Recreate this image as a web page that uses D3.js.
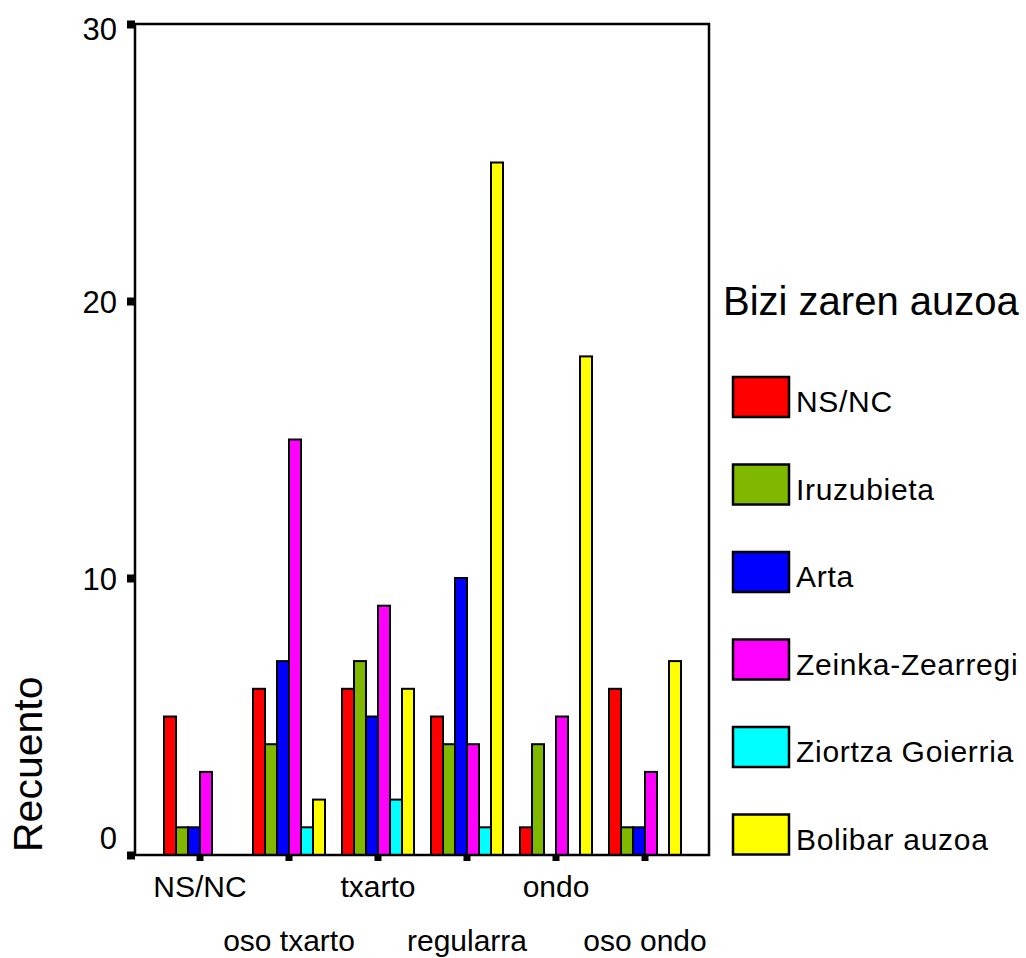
<!DOCTYPE html>
<html>
<head>
<meta charset="utf-8">
<script src="https://cdn.jsdelivr.net/npm/d3@7"></script>
<style>
  body { margin: 0; background: #fff; }
  text { font-family: "Liberation Sans", Arial, sans-serif; fill: #000; }
</style>
</head>
<body>
<script>
// answer categories (x axis) and neighbourhoods (series)
const categories = ["NS/NC", "oso txarto", "txarto", "regularra", "ondo", "oso ondo"];
const seriesNames = ["NS/NC", "Iruzubieta", "Arta", "Zeinka-Zearregi", "Ziortza Goierria", "Bolibar auzoa"];
const seriesColors = ["#ff0000", "#80b800", "#0000ff", "#ff00ff", "#00ffff", "#ffff00"];

// counts, one array per neighbourhood, in category order
const nsncValues       = [5, 6, 6, 5, 1, 6];
const iruzubietaValues = [1, 4, 7, 4, 4, 1];
const artaValues       = [1, 7, 5, 10, 0, 1];
const zeinkaValues     = [3, 15, 9, 4, 5, 3];
const ziortzaValues    = [0, 1, 2, 1, 0, 0];
const bolibarValues    = [0, 2, 6, 25, 18, 7];

const yTicks = [0, 10, 20, 30];

const allValues = [nsncValues, iruzubietaValues, artaValues, zeinkaValues, ziortzaValues, bolibarValues];

let data = [];
categories.forEach((c, i) => {
  seriesNames.forEach((s, j) => {
    data.push({ cat: c, series: s, value: allValues[j][i] });
  });
});

const svg = d3.select("body").append("svg")
  .attr("width", 1026)
  .attr("height", 958);

const plotLeft = 135, plotRight = 709, plotTop = 24, plotBottom = 855;

let y = d3.scaleLinear().domain([0, 30]).range([plotBottom, plotTop]);
let x0 = d3.scaleBand().domain(categories).range([155.5, 689.5]);
const groupWidth = 72;
let x1 = d3.scaleBand().domain(seriesNames).range([0, groupWidth]);
let color = d3.scaleOrdinal().domain(seriesNames).range(seriesColors);

// bars (zero counts are not drawn, leaving a gap)
svg.append("g").selectAll("rect")
  .data(data.filter(d => d.value > 0))
  .enter()
    .append("rect")
      .attr("x", d => x0(d.cat) + (x0.bandwidth() - groupWidth) / 2 + x1(d.series))
      .attr("y", d => y(d.value))
      .attr("width", x1.bandwidth())
      .attr("height", d => y(0) - y(d.value))
      .attr("fill", d => color(d.series))
      .attr("stroke", "#000")
      .attr("stroke-width", 2);

// frame
svg.append("rect")
  .attr("x", plotLeft).attr("y", plotTop)
  .attr("width", plotRight - plotLeft).attr("height", plotBottom - plotTop)
  .attr("fill", "none").attr("stroke", "#000").attr("stroke-width", 2.5);

// y axis
let yAxis = svg.append("g")
  .attr("transform", `translate(${plotLeft},0)`)
  .call(d3.axisLeft(y).tickValues(yTicks).tickSize(0).tickPadding(18));
yAxis.select(".domain").remove();
yAxis.selectAll("text")
  .style("font-size", "31px")
  .attr("dy", d => d == 0 ? "-0.2em" : (d == 30 ? "0.5em" : "0.36em"));
yAxis.selectAll(".tick").append("rect")
  .attr("x", -8).attr("y", -4).attr("width", 8).attr("height", 8)
  .attr("fill", "#000");

// x axis tick squares and labels (staggered in two rows)
let xAxis = svg.append("g")
  .attr("transform", `translate(0,${plotBottom})`)
  .call(d3.axisBottom(x0).tickSize(0).tickPadding(0));
xAxis.select(".domain").remove();
xAxis.selectAll(".tick").append("rect")
  .attr("x", -3.5).attr("y", 0).attr("width", 7).attr("height", 6)
  .attr("fill", "#000");
xAxis.selectAll("text")
  .style("font-size", "30px")
  .attr("dy", null)
  .attr("y", (d, i) => i % 2 == 0 ? 42 : 96);

// y title
svg.append("text")
  .attr("transform", "translate(42,852) rotate(-90)")
  .style("font-size", "41px")
  .text("Recuento");

// legend
svg.append("text")
  .attr("x", 723).attr("y", 315)
  .style("font-size", "40px")
  .text("Bizi zaren auzoa");

let legend = svg.append("g").selectAll("g")
  .data(seriesNames)
  .enter()
    .append("g")
      .attr("transform", (d, i) => `translate(733,${377 + i * 87.5})`);
legend.append("rect")
  .attr("width", 56).attr("height", 40)
  .attr("fill", d => color(d))
  .attr("stroke", "#000").attr("stroke-width", 2.5);
legend.append("text")
  .attr("x", 63).attr("y", 35)
  .style("font-size", "30px")
  .style("letter-spacing", "0.7px")
  .text(d => d);
</script>
</body>
</html>
